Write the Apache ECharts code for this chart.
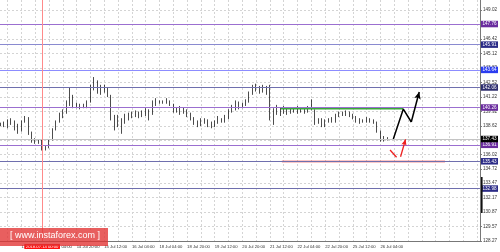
<!DOCTYPE html>
<html><head><meta charset="utf-8">
<script src="https://cdn.jsdelivr.net/npm/echarts@6/dist/echarts.min.js"></script>
<style>html,body{margin:0;padding:0;background:#fff;overflow:hidden}#c{width:500px;height:252px}</style>
</head><body><div id="c"></div>
<script>
// ---- data ----
// time axis in hours; tick labels every 16 hours starting at hour 16
const xTickHours = [16,32,48,64,80,96,112,128,144,160,176,192,208,224];
const xTickLabels = ["13 Jul 12:00","14 Jul 04:00","14 Jul 20:00","15 Jul 12:00","16 Jul 04:00","18 Jul 04:00","18 Jul 20:00","19 Jul 12:00","20 Jul 20:00","21 Jul 12:00","22 Jul 04:00","22 Jul 20:00","25 Jul 12:00","26 Jul 04:00"];
const yTickValues = [149.02,147.72,146.42,145.12,143.82,142.52,141.22,139.92,138.62,137.32,136.02,134.72,133.47,132.17,130.87,129.57,128.27];
const barStartHour = 4, barStepHours = 2;
// [open, close, low, high]
const bars = [
[138.8,138.7,138.6,138.9],[138.7,138.9,138.5,139.0],[138.9,139.2,138.4,139.2],[139.2,139.0,138.7,139.3],
[139.0,138.4,138.2,139.1],[138.4,138.2,137.9,138.8],[138.2,139.0,138.1,139.1],[139.0,139.3,138.9,139.5],
[139.3,138.0,137.8,139.4],[138.0,137.3,137.1,138.1],[137.3,137.2,137.0,137.5],[137.2,137.3,137.0,137.4],
[137.3,136.5,136.4,137.4],[136.5,136.6,136.4,136.8],[136.6,137.3,136.6,137.4],[137.3,138.3,137.3,138.4],
[138.3,139.0,138.2,139.1],[139.0,139.6,138.9,139.8],[139.6,139.9,139.3,140.1],[139.9,140.8,139.7,140.9],
[140.8,141.2,140.4,142.1],[141.2,140.5,140.2,141.4],[140.5,140.4,140.2,140.7],[140.4,140.3,140.1,140.6],
[140.3,140.4,140.2,140.6],[140.4,140.8,140.2,140.9],[140.8,142.2,140.7,142.3],[142.2,142.6,141.8,143.0],
[142.6,141.8,141.5,142.7],[141.8,142.0,141.4,142.3],[142.0,141.9,141.6,142.3],[141.9,141.3,141.2,142.1],
[141.3,139.3,139.1,141.4],[139.3,138.6,138.2,139.6],[138.6,139.2,138.5,139.6],[139.2,138.8,137.9,139.3],
[138.8,139.6,138.8,139.7],[139.6,139.4,139.1,139.8],[139.4,139.6,139.3,139.9],[139.6,139.8,139.4,140.0],
[139.8,139.5,139.3,139.9],[139.5,139.8,139.4,140.0],[139.8,140.0,139.5,140.2],[140.0,139.6,139.1,140.1],
[139.6,140.7,139.6,140.9],[140.7,140.6,140.4,141.1],[140.6,140.8,140.6,140.9],[140.8,140.7,140.6,140.9],
[140.7,140.9,140.6,141.1],[140.9,140.6,140.4,140.9],[140.6,139.9,139.8,140.6],[139.9,140.2,139.8,140.3],
[140.2,139.7,139.6,140.4],[139.7,140.0,139.7,140.3],[140.0,139.5,139.4,140.1],[139.5,139.2,139.1,139.8],
[139.2,138.8,138.7,139.4],[138.8,138.6,138.5,139.1],[138.6,138.9,138.6,139.3],[138.9,139.0,138.8,139.3],
[139.0,138.6,138.5,139.2],[138.6,138.5,138.4,139.0],[138.5,138.9,138.5,139.1],[138.9,139.3,138.8,139.5],
[139.3,139.0,138.9,139.3],[139.0,139.4,138.9,139.6],[139.4,140.0,139.2,140.1],[140.0,140.4,139.8,140.5],
[140.4,140.8,140.0,140.9],[140.8,140.3,140.1,140.8],[140.3,140.6,140.2,140.7],[140.6,140.8,140.4,141.0],
[140.8,141.6,140.7,141.7],[141.6,142.1,141.4,142.3],[142.1,142.0,141.7,142.4],[142.0,141.8,141.5,142.2],
[141.8,142.1,141.6,142.3],[142.1,141.6,141.4,142.2],[141.6,139.3,139.1,142.3],[139.3,139.9,138.7,140.2],
[139.9,140.2,139.6,140.5],[140.2,139.8,139.5,140.3],[139.8,140.1,139.7,140.4],[140.1,139.8,139.6,140.2],
[139.8,140.1,139.7,140.3],[140.1,139.9,139.8,140.2],[139.9,140.1,139.7,140.4],[140.1,139.9,139.8,140.2],
[139.9,140.0,139.7,140.2],[140.0,140.2,139.8,140.4],[140.2,140.1,140.0,141.0],[140.1,138.9,138.7,140.1],
[138.9,139.1,138.8,139.3],[139.1,138.6,138.5,139.3],[138.6,138.9,138.5,139.2],[138.9,139.1,138.9,139.3],
[139.1,138.9,138.9,139.4],[138.9,139.5,138.9,139.7],[139.5,139.7,139.4,139.9],[139.7,139.6,139.5,139.9],
[139.6,139.8,139.5,140.0],[139.8,139.5,139.4,139.9],[139.5,139.3,139.2,139.7],[139.3,139.0,138.9,139.5],
[139.0,139.0,138.8,139.3],[139.0,138.9,138.9,139.2],[138.9,139.1,138.9,139.4],[139.1,139.0,138.9,139.3],
[139.0,138.8,138.8,139.2],[138.8,138.1,138.0,139.0],[138.1,137.4,137.2,138.2],[137.4,137.4,137.2,137.7],
[137.4,137.5,137.3,137.6]
];
const levelValues = [147.76,145.91,143.64,142.06,140.26,136.91,135.43,132.98];
const bidValue = 137.43;
const markerHour = 28;
const markerText = "2018.07.14 00:00";
const resistance = {value:140.15, from:166.3, to:237.3};
const support = {value:135.41, from:166.9, to:261.5};
const forecastPath = [[231.5,137.43],[237.3,140.12],[241.9,138.96],[246.5,141.65]];
const redTick = [[229.6,136.44],[233.4,135.79]];
const redArrow = [[235.7,135.84],[238.6,137.40]];

// ---- styles / layout ----
const levelStyles = [
  {line:'#9b6fd0', tag:'#6a2c9e'},
  {line:'#8a8ad0', tag:'#2a2a86'},
  {line:'#8c8cff', tag:'#2a3cf0'},
  {line:'#6f6fae', tag:'#2e2e6e'},
  {line:'#9b6fd0', tag:'#6a2c9e'},
  {line:'#9b6fd0', tag:'#6a2c9e'},
  {line:'#6f6fae', tag:'#2a2a86'},
  {line:'#6f6fae', tag:'#2a2a86'}
];
const xMin = 3.58, xMax = 281.7, gridStep = 8;
const gridHours = [];
for (let h = gridStep; h < xMax; h += gridStep) gridHours.push(h);

const candleData = bars.map((b,i)=>[barStartHour + i*barStepHours, b[0], b[1], b[2], b[3]]);

const chart = echarts.init(document.getElementById('c'), null, {renderer:'canvas'});
const tagLabel = (bg)=>({show:true, position:'end', distance:1, formatter:(p)=>p.value.toFixed(2),
  backgroundColor:bg, color:'#fff', fontSize:4.6, fontFamily:'Liberation Sans', padding:[1,1.5,0.5,1.5]});

chart.setOption({
  animation:false,
  backgroundColor:'#fff',
  grid:{left:0, right:18, top:0, bottom:11, containLabel:false},
  xAxis:{
    type:'value', min:xMin, max:xMax,
    axisLine:{show:true, lineStyle:{color:'#777', width:1}},
    axisTick:{show:false, customValues:gridHours},
    splitLine:{show:true, lineStyle:{color:'#d4d4d4', type:[2,2], width:1}},
    axisLabel:{show:true, align:'left', margin:4, fontSize:4.2, color:'#333', fontFamily:'Liberation Sans',
      customValues:xTickHours, formatter:(v)=> xTickLabels[xTickHours.indexOf(v)] || ''}
  },
  yAxis:{
    type:'value', position:'right', min:128.27, max:149.92,
    axisLine:{show:true, lineStyle:{color:'#777', width:1}},
    axisTick:{show:true, length:2, lineStyle:{color:'#777'}, customValues:yTickValues},
    splitLine:{show:true, lineStyle:{color:'#d4d4d4', type:[2,2], width:1}},
    axisLabel:{show:true, margin:3, fontSize:4.6, color:'#333', fontFamily:'Liberation Sans',
      customValues:yTickValues, formatter:(v)=>v.toFixed(2)}
  },
  series:[
    {type:'line', data:[], silent:true,
      markLine:{symbol:'none', silent:true, animation:false,
        data: levelValues.map((v,i)=>({yAxis:v, lineStyle:{color:levelStyles[i].line, width:1, type:'solid'}, label:tagLabel(levelStyles[i].tag)}))
          .concat([{yAxis:bidValue, lineStyle:{color:'#c4c4c4', width:1, type:'solid'}, label:tagLabel('#000')},
                   {xAxis:markerHour, lineStyle:{color:'#ff8a8a', width:1, type:'solid'},
                    label:{show:true, position:'start', distance:3, formatter:markerText, backgroundColor:'#ff1010', color:'#fff', fontSize:4.2, padding:[0.5,1.5]}}])
      }},
    {type:'line', data:[[resistance.from,resistance.value],[resistance.to,resistance.value]], symbol:'none', lineStyle:{color:'#3aa83a', width:1.5}, silent:true},
    {type:'line', data:[[support.from,support.value],[support.to,support.value]], symbol:'none', lineStyle:{color:'#ee2020', width:1.5}, silent:true},
    {type:'candlestick', data:candleData, encode:{x:0, y:[1,2,3,4]}, barWidth:1.1,
      itemStyle:{color:'#000', color0:'#000', borderColor:'#000', borderColor0:'#000', borderWidth:0.7}},
    {type:'line', data:forecastPath.slice(0,3), symbol:'none', lineStyle:{color:'#000', width:1.5}, silent:true,
      markLine:{silent:true, symbol:['none','arrow'], symbolSize:[5,7], lineStyle:{color:'#000', width:1.5, type:'solid'}, label:{show:false},
        data:[[{coord:forecastPath[2]},{coord:forecastPath[3]}]]}},
    {type:'line', data:redTick, symbol:'none', lineStyle:{color:'#ee2020', width:1.3}, silent:true,
      markLine:{silent:true, symbol:['none','arrow'], symbolSize:[4,6], lineStyle:{color:'#ee2020', width:1.3, type:'solid'}, label:{show:false},
        data:[[{coord:redArrow[0]},{coord:redArrow[1]}]]}}
  ],
  graphic:[
    {type:'rect', left:481, top:177, shape:{width:1.6, height:36}, style:{fill:'#111'}, z:100},
    {type:'rect', left:0, top:228, shape:{width:108, height:18}, style:{fill:'rgba(225,50,50,0.78)'}, z:100},
    {type:'text', left:10, top:231, style:{text:'[ www.instaforex.com ]', fill:'#fff', fontSize:9, fontFamily:'Liberation Sans'}, z:101}
  ]
});
</script></body></html>
